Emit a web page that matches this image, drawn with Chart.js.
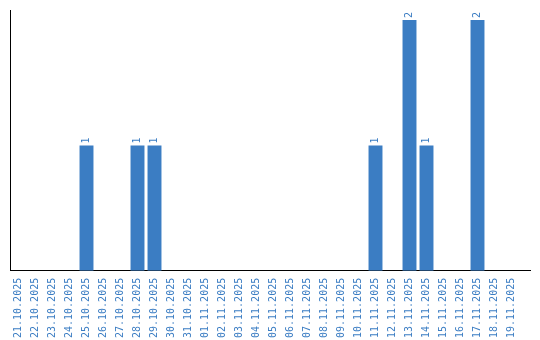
<!DOCTYPE html>
<html>
<head>
<meta charset="utf-8">
<script src="https://cdn.jsdelivr.net/npm/chart.js@4/dist/chart.umd.min.js"></script>
<style>
html,body{margin:0;padding:0;background:#fff;}
#wrap{width:540px;height:340px;}
</style>
</head>
<body>
<div id="wrap"><canvas id="c" width="540" height="340"></canvas></div>
<script>
const categories = ["21.10.2025","22.10.2025","23.10.2025","24.10.2025","25.10.2025","26.10.2025","27.10.2025","28.10.2025","29.10.2025","30.10.2025","31.10.2025","01.11.2025","02.11.2025","03.11.2025","04.11.2025","05.11.2025","06.11.2025","07.11.2025","08.11.2025","09.11.2025","10.11.2025","11.11.2025","12.11.2025","13.11.2025","14.11.2025","15.11.2025","16.11.2025","17.11.2025","18.11.2025","19.11.2025"];
const counts = [0,0,0,0,1,0,0,1,1,0,0,0,0,0,0,0,0,0,0,0,0,1,0,2,1,0,0,2,0,0];

const barColor = '#3b7dc3';
const textColor = '#3b7dc3';
const monoFont = '"DejaVu Sans Mono", monospace';

const valueLabels = {
  id: 'valueLabels',
  afterDatasetsDraw(chart) {
    const ctx = chart.ctx;
    const meta = chart.getDatasetMeta(0);
    ctx.save();
    ctx.font = '10px ' + monoFont;
    ctx.fillStyle = textColor;
    ctx.textAlign = 'left';
    ctx.textBaseline = 'middle';
    meta.data.forEach((bar, i) => {
      const v = counts[i];
      if (!v) return;
      ctx.save();
      ctx.translate(bar.x, bar.y - 2);
      ctx.rotate(-Math.PI / 2);
      ctx.fillText(String(v), 0, 0);
      ctx.restore();
    });
    ctx.restore();
  },
  afterDraw(chart) {
    const ctx = chart.ctx;
    const a = chart.chartArea;
    const y = Math.round(chart.scales.x.top - 0.5) + 0.5;
    ctx.save();
    ctx.strokeStyle = '#000';
    ctx.lineWidth = 1;
    ctx.beginPath();
    ctx.moveTo(a.right - 1, y);
    ctx.lineTo(a.right + 11, y);
    ctx.stroke();
    ctx.restore();
  }
};

new Chart(document.getElementById('c'), {
  type: 'bar',
  data: {
    labels: categories,
    datasets: [{
      data: counts,
      backgroundColor: barColor,
      borderWidth: 0,
      barPercentage: 0.82,
      categoryPercentage: 1.0
    }]
  },
  options: {
    responsive: false,
    animation: false,
    layout: { padding: { left: 10, top: 10, right: 20, bottom: -5 } },
    plugins: { legend: { display: false }, tooltip: { enabled: false } },
    scales: {
      x: {
        grid: { display: false, drawTicks: false },
        border: { display: true, color: '#000', width: 1 },
        ticks: {
          color: textColor,
          font: { family: monoFont, size: 10 },
          minRotation: 90,
          maxRotation: 90,
          autoSkip: false,
          padding: 7
        }
      },
      y: {
        min: 0,
        max: 2.08,
        grid: { display: false, drawTicks: false },
        border: { display: true, color: '#000', width: 1 },
        ticks: { display: false }
      }
    }
  },
  plugins: [valueLabels]
});
</script>
</body>
</html>
